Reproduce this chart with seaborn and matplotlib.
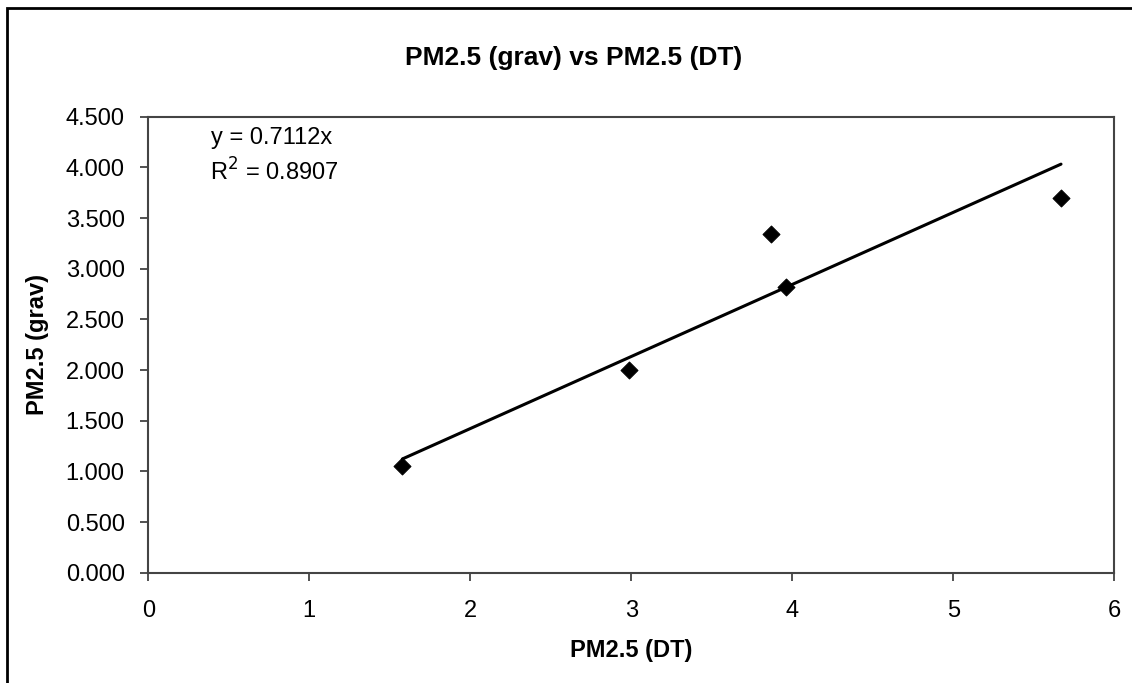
import matplotlib
matplotlib.use("Agg")
import matplotlib.pyplot as plt
import seaborn as sns
import pandas as pd
from matplotlib.patches import Rectangle

pm_dt = [1.578, 2.986, 3.868, 3.959, 5.669]
pm_grav = [1.056, 2.000, 3.341, 2.822, 3.695]
slope = 0.7112
r_squared = 0.8907
x_ticks = [0, 1, 2, 3, 4, 5, 6]
y_ticks = [0.0, 0.5, 1.0, 1.5, 2.0, 2.5, 3.0, 3.5, 4.0, 4.5]

sns.set_theme(style="white")
plt.rcParams['font.family'] = ['Liberation Sans', 'DejaVu Sans']
plt.rcParams['text.color'] = 'black'
plt.rcParams['axes.labelcolor'] = 'black'
plt.rcParams['xtick.color'] = 'black'
plt.rcParams['ytick.color'] = 'black'

df = pd.DataFrame({"x": pm_dt, "y": pm_grav})
fit = pd.DataFrame({"x": [min(pm_dt), max(pm_dt)]})
fit["y"] = slope * fit["x"]

fig = plt.figure(figsize=(11.32, 6.83), dpi=100)
ax = fig.add_axes([148.3 / 1132, 1 - 572.7 / 683, (1114.3 - 148.3) / 1132, (572.7 - 116.7) / 683])

sns.lineplot(data=fit, x="x", y="y", ax=ax, color="black", linewidth=2.2)
sns.scatterplot(data=df, x="x", y="y", ax=ax, marker="D", s=75, color="black",
                edgecolor="black", zorder=3)

ax.set_xlim(0, 6)
ax.set_ylim(0, 4.5)
ax.set_xticks(x_ticks)
ax.set_yticks(y_ticks)
ax.set_xticklabels([str(t) for t in x_ticks], fontsize=17)
ax.set_yticklabels([f"{t:.3f}" for t in y_ticks], fontsize=17)
ax.tick_params(axis="both", direction="out", length=6, width=1.2, color="#333333",
               left=True, bottom=True)
ax.tick_params(axis="x", pad=14)
ax.tick_params(axis="y", pad=11)
for s in ax.spines.values():
    s.set_visible(True)
    s.set_color("#444444")
    s.set_linewidth(1.5)

ax.set_xlabel("PM2.5 (DT)", fontsize=17, fontweight="bold", labelpad=12)
ax.set_ylabel("PM2.5 (grav)", fontsize=17, fontweight="bold", labelpad=12)
fig.text(574 / 1132, 1 - 58 / 683, "PM2.5 (grav) vs PM2.5 (DT)", ha="center", va="center",
         fontsize=19, fontweight="bold")

ax.text(0.065, 0.953, f"y = {slope}x", transform=ax.transAxes, fontsize=17, va="center", ha="left")
ax.text(0.064, 0.879, f"R$^2$ = {r_squared}", transform=ax.transAxes, fontsize=17, va="center", ha="left")

fig.patches.append(Rectangle((6.7 / 1132, -0.1), 1.2, 1 - 8 / 683 + 0.1, transform=fig.transFigure,
                             fill=False, edgecolor="black", linewidth=2, clip_on=False))

fig.savefig("out.png", dpi=100)
